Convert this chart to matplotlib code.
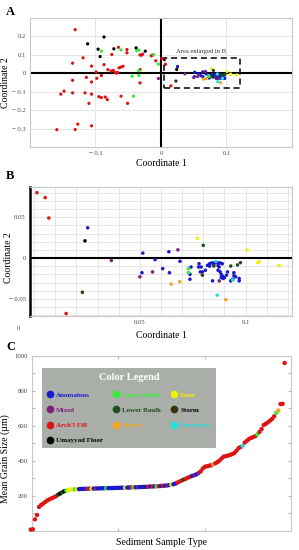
import matplotlib
matplotlib.use('Agg')
import matplotlib.pyplot as plt
from matplotlib.lines import Line2D
from matplotlib.patches import Rectangle

plt.rcParams['font.family'] = 'serif'
plt.rcParams['font.serif'] = ['Liberation Serif', 'DejaVu Serif']

# category colours
colors = {
    'AN': '#1a1acc', 'MX': '#7b1f80', 'AF': '#dd1414', 'UF': '#000000',
    'UB': '#33ee33', 'LB': '#1f4f1f', 'HE': '#f5a623', 'DU': '#f0f000',
    'ST': '#3b3212', 'NS': '#22e0e0',
}
legend_codes = ['AN', 'MX', 'AF', 'UF', 'UB', 'LB', 'HE', 'DU', 'ST', 'NS']
legend_names = ['Anomalous', 'Mixed', "Arch'l Fill", 'Umayyad Floor', 'Upper Baulk',
                'Lower Baulk', 'Hearth', 'Dune', 'Storm', 'Nearshore']
legend_text_colors = ['#1a1acc', '#7b1f80', '#dd1414', '#000000', '#33ee33',
                      '#1f4f1f', '#f5a623', '#f0f000', '#000000', '#22e0e0']

# panel A points outside the enlarged area
a_x = [-0.131, -0.119, -0.135, -0.135, -0.106, -0.087, -0.099, -0.091, -0.114, -0.098,
       -0.106, -0.153, -0.148, -0.135, -0.116, -0.106, -0.110, -0.095, -0.091, -0.085,
       -0.082, -0.061, -0.051, -0.159, -0.131, -0.127, -0.106, -0.075, -0.065, -0.081,
       -0.076, -0.073, -0.070, -0.068, -0.066, -0.064, -0.058, -0.061, -0.052, -0.052,
       -0.032, -0.030, -0.028, -0.015, -0.012, -0.008, -0.032, -0.032,
       -0.091, -0.061, -0.037, -0.034, -0.011, -0.004, -0.044, -0.034, -0.034, -0.042,
       -0.112, -0.087, -0.096, -0.093, -0.072, -0.038, -0.024,
       -0.004]
a_y = [0.237, 0.084, 0.055, -0.038, 0.039, 0.047, 0.007, -0.012, -0.022, -0.027,
       -0.047, -0.113, -0.097, -0.106, -0.106, -0.113, -0.163, -0.127, -0.131, -0.129,
       -0.143, -0.124, -0.163, -0.306, -0.305, -0.276, -0.285, 0.102, 0.141, 0.020,
       0.012, 0.016, 0.005, 0.001, 0.004, 0.030, 0.038, 0.034, 0.129, 0.111,
       0.100, 0.098, 0.104, 0.095, 0.100, 0.068, 0.020, -0.052,
       0.120, 0.127, 0.122, 0.126, 0.100, 0.050, -0.016, -0.011, 0.015, -0.124,
       0.160, 0.197, 0.131, 0.091, 0.133, 0.138, 0.120,
       -0.028]
a_cat = ['AF'] * 48 + ['UB'] * 10 + ['UF'] * 7 + ['MX']

# panel B points (the enlarged area, also drawn in A)
b_x = [0.0013, 0.0052, 0.0069, 0.0151,
       0.0253, 0.0514, 0.0572, 0.051, 0.0637, 0.069, 0.0608, 0.064, 0.0742, 0.0737,
       0.0737, 0.078, 0.0778, 0.079, 0.0786, 0.0796, 0.081, 0.082, 0.083, 0.084,
       0.085, 0.086, 0.087, 0.088, 0.089, 0.083, 0.085, 0.087, 0.0875, 0.087,
       0.088, 0.0885, 0.089, 0.0895, 0.091, 0.0885, 0.0844, 0.090, 0.0915, 0.093,
       0.094, 0.0945, 0.0945, 0.0953, 0.097, 0.097,
       0.024,
       0.0365, 0.050, 0.056, 0.068, 0.0876,
       0.0228, 0.0796,
       0.0772, 0.1008, 0.1058, 0.1065, 0.1159,
       0.080, 0.085, 0.093, 0.0962, 0.0976,
       0.0648, 0.0689, 0.0907,
       0.073, 0.073,
       0.086, 0.094, 0.0866]
b_y = [0.080, 0.074, 0.049, -0.068,
       0.037, 0.006, -0.002, -0.018, 0.0077, -0.004, -0.013, -0.018, -0.011, -0.020,
       -0.026, -0.007, -0.011, -0.011, -0.017, -0.017, -0.015, -0.009, -0.007, -0.006,
       -0.006, -0.005, -0.006, -0.006, -0.007, -0.010, -0.008, -0.009, -0.011, -0.015,
       -0.017, -0.020, -0.022, -0.025, -0.021, -0.024, -0.028, -0.024, -0.017, -0.028,
       -0.026, -0.018, -0.0215, -0.023, -0.025, -0.028,
       0.021,
       -0.003, -0.023, -0.017, 0.010, -0.028,
       -0.042, -0.021,
       0.024, 0.010, -0.0057, -0.0045, -0.009,
       0.0155, -0.0098, -0.0098, -0.0085, -0.0057,
       -0.032, -0.029, -0.051,
       -0.013, -0.018,
       -0.004, -0.027, -0.0455]
b_cat = (['AF'] * 4 + ['AN'] * 46 + ['UF'] + ['MX'] * 5 + ['ST'] * 2 + ['DU'] * 5
         + ['LB'] * 5 + ['HE'] * 3 + ['UB'] * 2 + ['NS'] * 3)

# panel C: sorted mean grain size (um) and sample type
grain = [6, 8, 65, 90, 136, 148, 156, 165, 174, 180,
         186, 191, 197, 206, 213, 220, 226, 230, 233, 235,
         236, 237, 238, 238, 239, 239, 240, 240, 241, 241,
         241, 242, 242, 242, 243, 243, 243, 244, 244, 244,
         245, 245, 245, 246, 246, 246, 247, 247, 248, 248,
         249, 249, 250, 250, 251, 251, 252, 253, 253, 254,
         254, 255, 256, 257, 258, 259, 261, 263, 266, 270,
         276, 282, 288, 293, 298, 304, 309, 314, 318, 323,
         330, 340, 356, 366, 369, 372, 375, 380, 386, 393,
         402, 414, 424, 427, 430, 434, 439, 444, 458, 472,
         479, 486, 505, 515, 525, 531, 536, 541, 552, 565,
         582, 605, 612, 620, 630, 640, 655, 675, 688, 725,
         726, 960]
grain_cat = (['AF'] * 13 + ['LB', 'UF', 'LB', 'UF', 'UB', 'DU', 'DU', 'DU', 'UB', 'DU']
             + ['AN'] * 4 + ['AF', 'MX', 'DU', 'AN', 'MX', 'AN', 'AN', 'AN', 'AN', 'UB']
             + ['AN'] * 8 + ['DU', 'AN', 'AN', 'AF', 'UB', 'AN', 'MX', 'AN', 'AN', 'AN',
                             'AN', 'AF', 'AN', 'AF', 'AN', 'UB', 'AF', 'AN', 'AF', 'AN',
                             'MX', 'AN', 'DU', 'AN', 'AN', 'AF', 'AF', 'AF', 'LB', 'AF',
                             'AF', 'AF', 'AN', 'MX', 'AN', 'MX']
             + ['AF'] * 6 + ['HE'] + ['AF'] * 13 + ['NS'] + ['AF'] * 6 + ['UB']
             + ['AF'] * 8 + ['UB', 'HE', 'AF', 'AF', 'AF'])

fig = plt.figure(figsize=(2.99, 5.5), dpi=100)
tick_col = '#444444'
grid_col = '#e2e2e2'

# ---------------- Panel A ----------------
axA = fig.add_axes([0.1003, 0.7327, 0.8763, 0.2345])
axA.set_xlim(-0.2, 0.2)
axA.set_ylim(-0.4, 0.3)
axA.set_xticks([-0.1, 0, 0.1])
axA.set_xticklabels(['\u2212 0.1', '0', '0.1'])
axA.set_yticks([0.2, 0.1, 0, -0.1, -0.2, -0.3])
axA.set_yticklabels(['0.2', '0.1', '0', '\u2212 0.1', '\u2212 0.2', '\u2212 0.3'])
axA.grid(True, color=grid_col, lw=0.6)
axA.set_axisbelow(True)
axA.axhline(0, color='black', lw=1.5, zorder=2)
axA.axvline(0, color='black', lw=1.5, zorder=2)
axA.scatter(a_x, a_y, c=[colors[k] for k in a_cat], s=5.5, lw=0, zorder=3)
axA.scatter(b_x, b_y, c=[colors[k] for k in b_cat], s=5.5, lw=0, zorder=3)
axA.add_patch(Rectangle((0.005, -0.08), 0.115, 0.165, fill=False, ls=(0, (4, 2.5)),
                        lw=1.1, ec='black', zorder=4))
axA.text(0.061, 0.103, 'Area enlarged in B', fontsize=4.8, ha='center', va='bottom',
         color='#333333')
axA.set_xlabel('Coordinate 1', fontsize=7, labelpad=2)
axA.set_ylabel('Coordinate 2', fontsize=7)
axA.yaxis.set_label_coords(-0.076, 0.5)

# ---------------- Panel B ----------------
axB = fig.add_axes([0.1003, 0.4255, 0.8763, 0.2345])
axB.set_xlim(-0.002, 0.122)
axB.set_ylim(-0.071, 0.087)
axB.set_xticks([0.05, 0.1])
axB.set_xticklabels(['0.05', '0.1'])
axB.set_xticks([0.01 * i for i in range(13)], minor=True)
axB.set_yticks([0.05, 0, -0.05])
axB.set_yticklabels(['0.05', '0', '\u2212 0.05'])
axB.set_yticks([0.01 * i for i in range(-7, 9)], minor=True)
axB.grid(True, which='both', color=grid_col, lw=0.6)
axB.tick_params(which='minor', length=0)
axB.set_axisbelow(True)
axB.axhline(0, color='black', lw=1.5, zorder=2)
axB.scatter(b_x, b_y, c=[colors[k] for k in b_cat], s=6.5, lw=0, zorder=3)
axB.spines['left'].set_color('black')
axB.spines['left'].set_linewidth(1.8)
axB.set_xlabel('Coordinate 1', fontsize=7, labelpad=4)
axB.set_ylabel('Coordinate 2', fontsize=7)
axB.yaxis.set_label_coords(-0.066, 0.45)
fig.text(18 / 299, 1 - 329 / 550, '0', fontsize=4.8, ha='center', va='center',
         color=tick_col)

# ---------------- Panel C ----------------
axC = fig.add_axes([0.107, 0.0351, 0.8662, 0.3176])
idx = list(range(len(grain)))
axC.scatter(idx, grain, c=[colors[k] for k in grain_cat], s=10, lw=0, zorder=3,
            clip_on=False)
axC.set_xlim(0.6, 124)
axC.set_ylim(0, 1000)
axC.set_yticks([200, 400, 600, 800, 1000])
axC.set_yticks(range(100, 1000, 100), minor=True)
x0, x1 = axC.get_xlim()
axC.set_xticks([x0 + (x1 - x0) / 3, x0 + 2 * (x1 - x0) / 3])
axC.set_xticklabels([])
axC.tick_params(which='both', direction='in', top=True, right=True, length=2.5,
                width=0.5, color='#999999')
axC.set_xlabel('Sediment Sample Type', fontsize=7, labelpad=2)
axC.set_ylabel('Mean Grain Size (\u00b5m)', fontsize=7)
axC.yaxis.set_label_coords(-0.085, 0.41)

handles = [Line2D([], [], ls='', marker='o', ms=4.5, mfc=colors[k], mec=colors[k])
           for k in legend_codes]
leg = axC.legend(handles, legend_names, ncol=3, loc='upper left',
                 bbox_to_anchor=(0.039, 0.931), title='Color Legend',
                 prop={'weight': 'bold', 'size': 5.0},
                 title_fontproperties={'weight': 'bold', 'size': 7.5},
                 frameon=True, fancybox=False, facecolor='#a9aea9', edgecolor='none',
                 framealpha=1, handletextpad=0.45, columnspacing=1.5, labelspacing=1.35,
                 borderpad=0.75, handlelength=0.8, borderaxespad=0)
leg.get_title().set_color('white')
for t, c in zip(leg.get_texts(), legend_text_colors):
    t.set_color(c)

for ax in (axA, axB, axC):
    ax.tick_params(labelsize=4.8, labelcolor=tick_col, length=0, pad=3)
    for name, sp in ax.spines.items():
        if ax is axB and name == 'left':
            continue
        sp.set_color('#c8c8c8')
        sp.set_linewidth(0.8)
axC.tick_params(which='both', length=2.5)

fig.text(10 / 299, 1 - 12 / 550, 'A', fontsize=9, weight='bold', ha='center', va='center')
fig.text(10 / 299, 1 - 176 / 550, 'B', fontsize=9, weight='bold', ha='center', va='center')
fig.text(11 / 299, 1 - 347 / 550, 'C', fontsize=9, weight='bold', ha='center', va='center')

fig.savefig('out.png', dpi=100)
